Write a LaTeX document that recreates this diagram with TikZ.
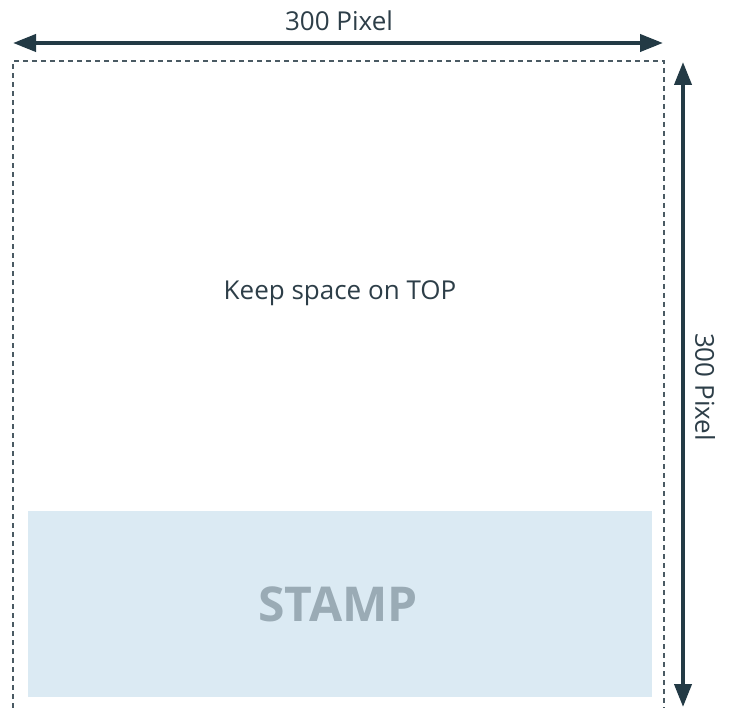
\documentclass[tikz,border=0pt]{standalone}
\usepackage{fontspec}
\setmainfont{Open Sans}
\usetikzlibrary{arrows.meta}
\definecolor{dark}{HTML}{233A45}
\definecolor{txt}{HTML}{2D3E48}
\definecolor{stampfill}{HTML}{DBEAF3}
\definecolor{stamptxt}{HTML}{9AABB5}
\definecolor{dashc}{HTML}{4A5A63}
\tikzset{
  dim/.style={draw=dark, line width=4pt, {Triangle[length=23pt,width=17pt]}-{Triangle[length=23pt,width=17pt]}},
  lbl/.style={text=txt, font=\fontsize{26}{30}\selectfont, inner sep=0pt},
}
\begin{document}
\begin{tikzpicture}[x=1pt,y=-1pt]
\useasboundingbox (0,0) rectangle (730,708);
% dashed frame
\draw[dashc, line width=1.3pt, dash pattern=on 5pt off 4pt] (13,708) -- (13,61) -- (664,61) -- (664,708);
% stamp
\node[fill=stampfill, minimum width=624pt, minimum height=186pt, inner sep=0pt, anchor=north west] (stamp) at (28,511) {};
\node[text=stamptxt, font=\fontsize{48}{58}\selectfont\bfseries, inner sep=0pt] (stamptext) at (338,604) {STAMP};
% dimension arrows
\coordinate (hl) at (13,43);
\coordinate (hr) at (663,43);
\draw[dim] (hl) -- (hr);
\coordinate (vt) at (683,62);
\coordinate (vb) at (683,707);
\draw[dim] (vt) -- (vb);
\node[lbl] (top) at (339,21) {300 Pixel};
\node[lbl, rotate=-90] (side) at (705,387) {300 Pixel};
\node[lbl] (keep) at (340,293) {Keep space on TOP};
\end{tikzpicture}
\end{document}
